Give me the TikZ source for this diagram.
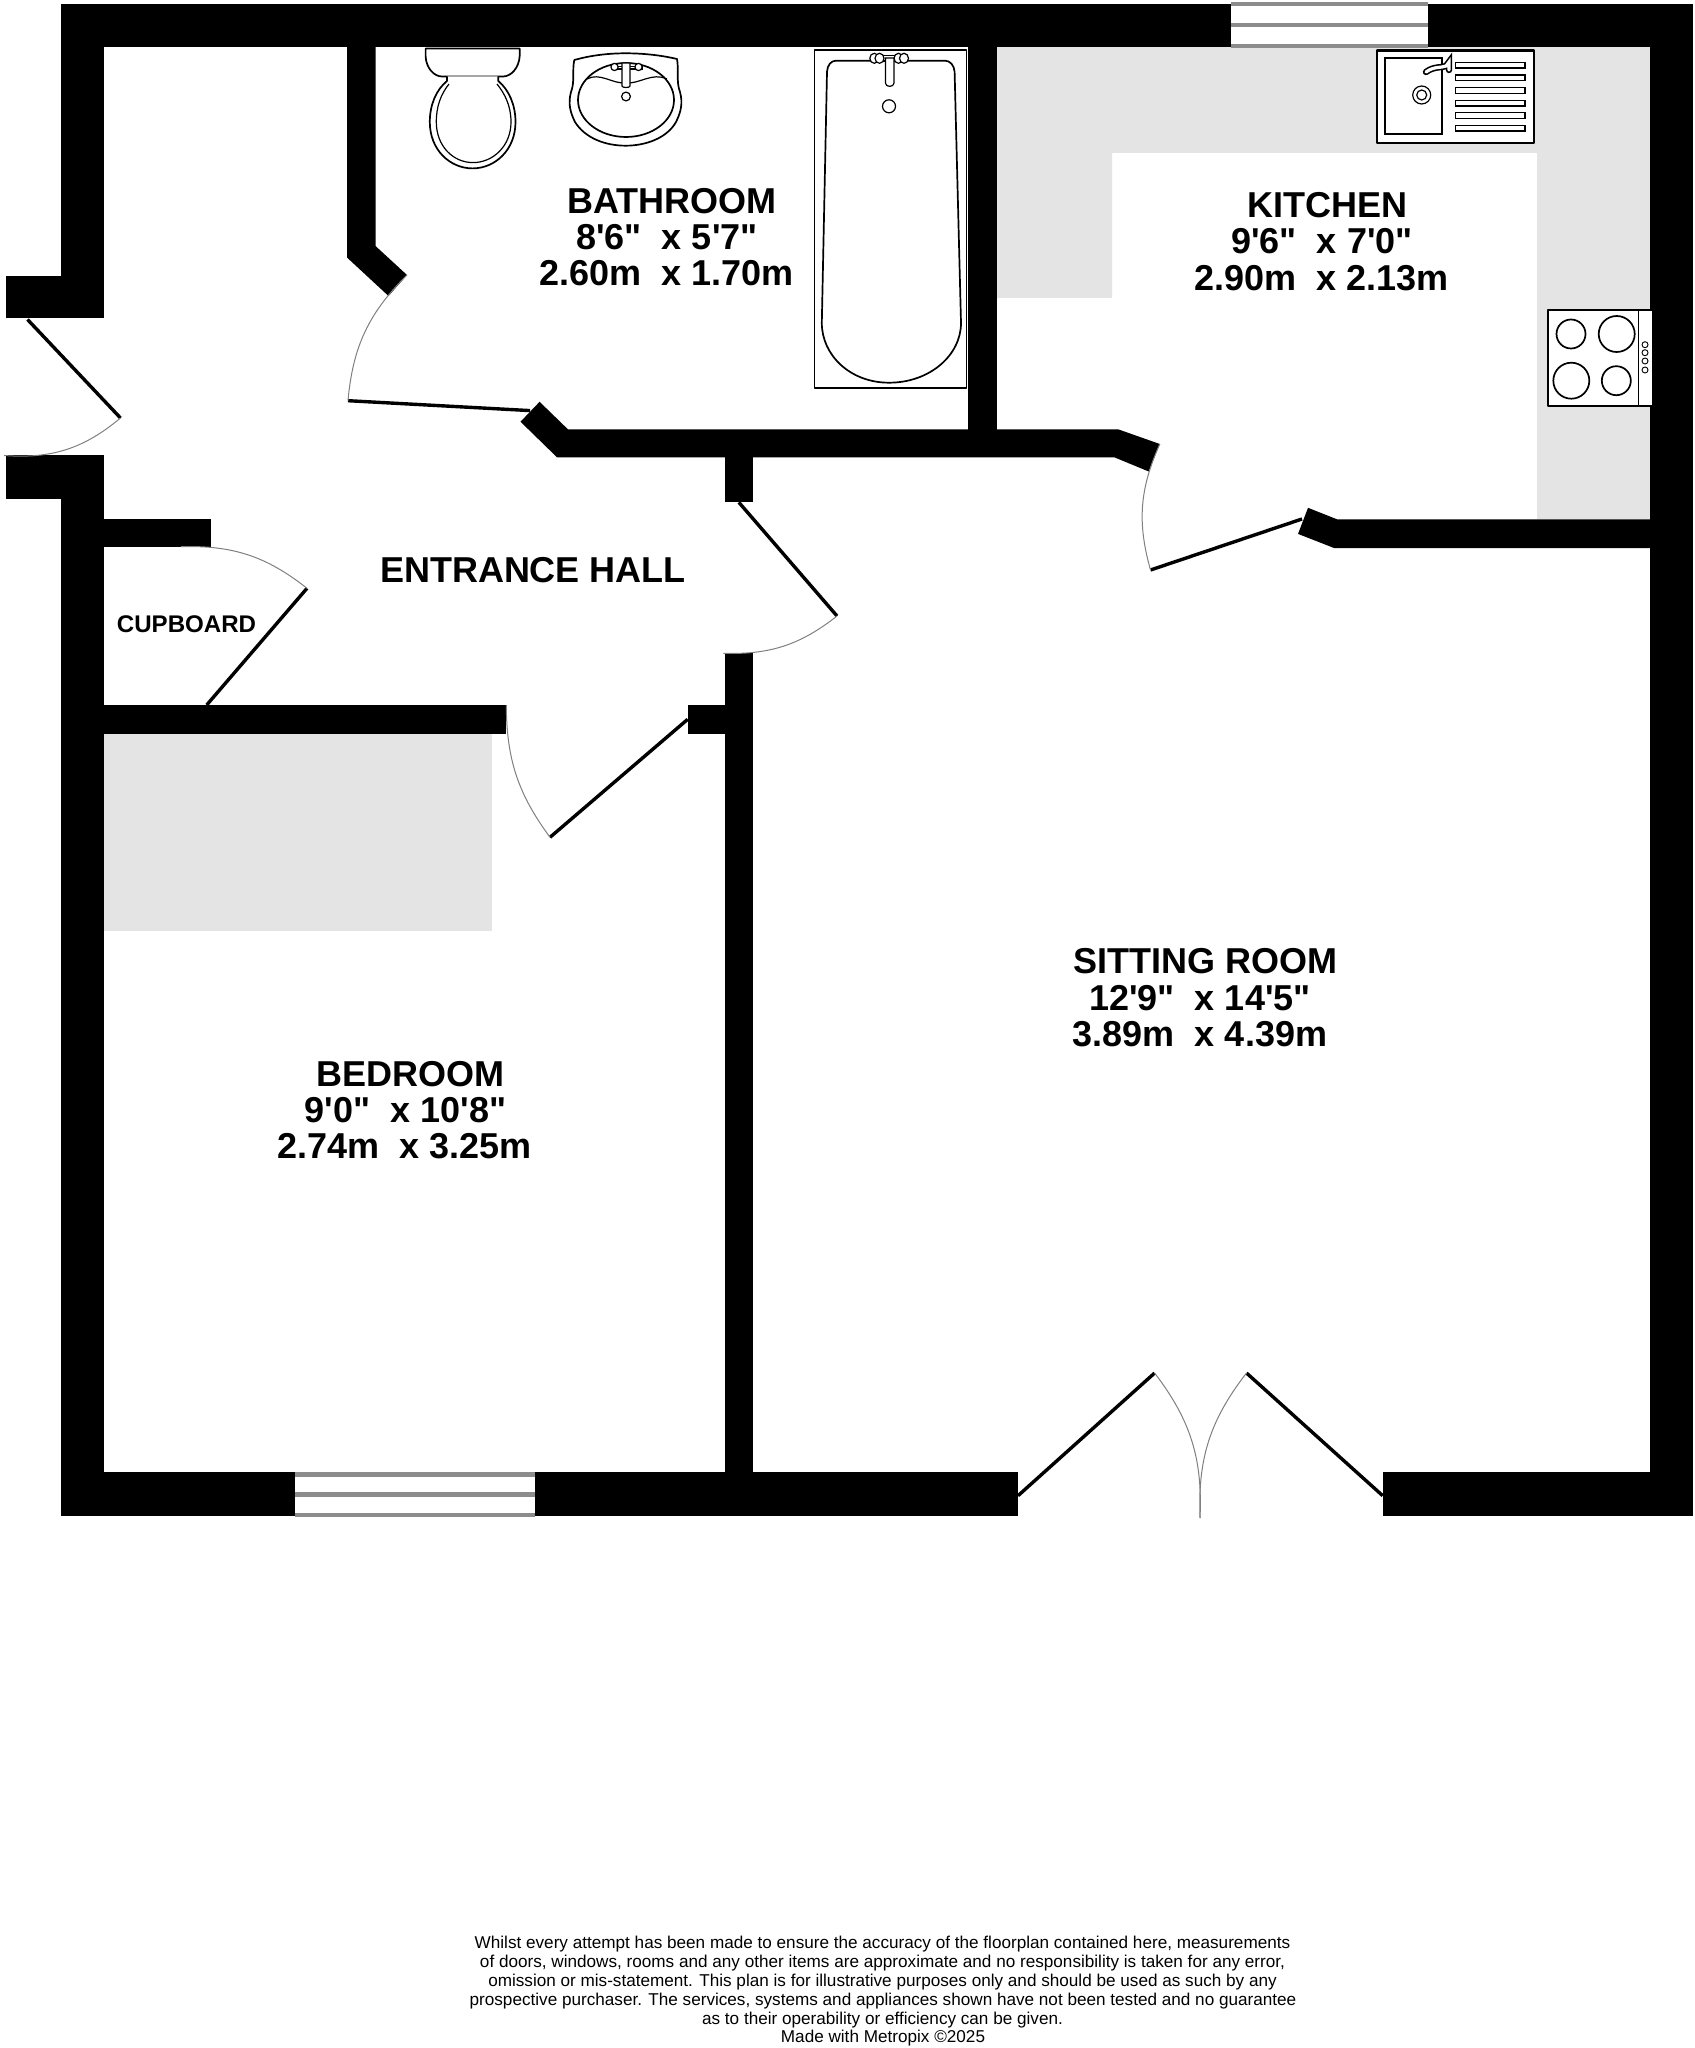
\documentclass[tikz,border=0pt]{standalone}
\usepackage{fontspec}
\newfontfamily\plansans{Liberation Sans}
\tikzset{
  wall/.style={fill=black,draw=none},
  counter/.style={fill=counterg,draw=none},
  leaf/.style={draw=black,line width=1.7pt},
  swing/.style={draw=swingg,line width=0.5pt},
  fixture/.style={draw=black,line width=0.85pt,fill=white,line join=round},
  fine/.style={draw=black,line width=0.6pt,fill=white},
  winbar/.style={fill=wing,draw=none},
  roomname/.style={font=\plansans\bfseries\fontsize{18}{20}\selectfont,anchor=base,inner sep=0pt,text=black},
  smallname/.style={font=\plansans\bfseries\fontsize{12.05}{14}\selectfont,anchor=base,inner sep=0pt,text=black},
  small print/.style={font=\plansans\fontsize{8.57}{10}\selectfont,anchor=base,inner sep=0pt,text=black}
}
\definecolor{counterg}{HTML}{E4E4E4}
\definecolor{swingg}{HTML}{808080}
\definecolor{wing}{HTML}{8C8C8C}
\begin{document}
\begin{tikzpicture}[x=0.5pt,y=-0.5pt]
\useasboundingbox (0,0) rectangle (1695,2048);
\fill[white] (0,0) rectangle (1695,2048);
% counters / wardrobe
\fill[counter] (997,47) -- (1650,47) -- (1650,519.3) -- (1537,519.3) -- (1537,153) -- (1112,153) -- (1112,298) -- (997,298) -- cycle;
\fill[counter] (103.5,734) rectangle (492,931);
% walls
\fill[wall] (60.5,4) rectangle (1231,47);
\fill[wall] (1428,4) rectangle (1693,47);
\fill[wall] (60.5,4) rectangle (103.5,318.5);
\fill[wall] (6,276) rectangle (103.5,318.5);
\fill[wall] (6,455.5) rectangle (103.5,498.6);
\fill[wall] (60.5,455.5) rectangle (103.5,1515.7);
\fill[wall] (103.5,519.3) rectangle (211,547.3);
\fill[wall] (103.5,705) rectangle (506.3,734);
\fill[wall] (60.5,1472.3) rectangle (295,1515.7);
\fill[wall] (535,1472.3) rectangle (1018,1515.7);
\fill[wall] (1382.7,1472.3) rectangle (1693,1515.7);
\fill[wall] (1650,4) rectangle (1693,1515.7);
\fill[wall] (347,47) -- (375.5,47) -- (375.5,246) -- (407,275) -- (388.5,296) -- (347,257.5) -- cycle;
\fill[wall] (539.6,401.8) -- (568,429.4) -- (1118.4,429.4) -- (1159.8,444) -- (1148.7,471.5) -- (1114.3,457.3) -- (557,457.3) -- (520.5,421.7) -- cycle;
\fill[wall] (968,47) rectangle (997,457);
\fill[wall] (724.5,457) rectangle (753,501.7);
\fill[wall] (724.5,653.3) rectangle (753,1472.3);
\fill[wall] (687.7,705) rectangle (753,734);
\fill[wall] (1308,507.8) -- (1337,519.3) -- (1650,519.3) -- (1650,548) -- (1334,548) -- (1298,533.9) -- cycle;
% windows
\fill[white] (1231,4) rectangle (1428,47);
\fill[winbar] (1231,2.5) rectangle (1428,6);
\fill[winbar] (1231,23.5) rectangle (1428,27);
\fill[winbar] (1231,44.5) rectangle (1428,48);
\fill[white] (295,1472.3) rectangle (535,1515.7);
\fill[winbar] (295,1472) rectangle (535,1476.5);
\fill[winbar] (295,1492) rectangle (535,1496.5);
\fill[winbar] (295,1512.5) rectangle (535,1517);
% door leaves and swings
\coordinate (d1h) at (27.5,319.5);  \coordinate (d1t) at (120.5,418);  \coordinate (d1e) at (4,455.5);
\coordinate (d2h) at (530,410.6);   \coordinate (d2t) at (348,400.7);  \coordinate (d2e) at (407,275);
\coordinate (d3h) at (687.7,719.3); \coordinate (d3t) at (550,837.3);  \coordinate (d3e) at (506.3,705);
\coordinate (d4h) at (738.8,502.3); \coordinate (d4t) at (837,616);    \coordinate (d4e) at (723.3,653.3);
\coordinate (d5h) at (206.7,705);   \coordinate (d5t) at (307,588.3);  \coordinate (d5e) at (180.8,546.7);
\coordinate (d6h) at (1302,519);    \coordinate (d6t) at (1150.5,570); \coordinate (d6e) at (1159.8,444);
\coordinate (d7h) at (1018,1495.7); \coordinate (d7t) at (1154.6,1373);\coordinate (d7e) at (1200,1518);
\coordinate (d8h) at (1382.7,1495.7);\coordinate (d8t) at (1246.5,1373);
\draw[leaf] (d1h) -- (d1t); \draw[swing] (d1t) to[bend left=22] (d1e);
\draw[leaf] (d2h) -- (d2t); \draw[swing] (d2t) to[bend left=20] (d2e);
\draw[leaf] (d3h) -- (d3t); \draw[swing] (d3t) to[bend left=18] (d3e);
\draw[leaf] (d4h) -- (d4t); \draw[swing] (d4t) to[bend left=20] (d4e);
\draw[leaf] (d5h) -- (d5t); \draw[swing] (d5t) to[bend right=20] (d5e);
\draw[leaf] (d6h) -- (d6t); \draw[swing] (d6t) to[bend left=20] (d6e);
\draw[leaf] (d7h) -- (d7t); \draw[swing] (d7t) to[bend left=20] (d7e);
\draw[leaf] (d8h) -- (d8t); \draw[swing] (d8t) to[bend right=20] (d7e);
% toilet
\draw[fixture] (425.6,48.6) -- (519.7,48.6) -- (519.7,56) .. controls (519,68) and (511,76.5) .. (503,76.5) -- (442,76.5) .. controls (434,76.5) and (426,68) .. (425.6,56) -- cycle;
\draw[fixture] (447,76.5) -- (447,81) .. controls (436,90) and (429.8,105) .. (429.8,122) .. controls (429.8,150) and (450,168.4) .. (472.6,168.4) .. controls (495,168.4) and (515.5,150) .. (515.5,122) .. controls (515.5,105) and (509,90) .. (498.3,81) -- (498.3,76.5);
\draw[fixture,fill=none,line width=0.6pt] (449,84) .. controls (441,94) and (436.3,106) .. (436.3,122) .. controls (436.3,146) and (453,162.6) .. (473,162.6) .. controls (493,162.6) and (511,146) .. (511,122) .. controls (511,106) and (505,94) .. (497,84);
% basin
\draw[fixture] (574.3,60) .. controls (592,55) and (610,53.3) .. (625.7,53.3) .. controls (642,53.3) and (660,55) .. (677,59) .. controls (679,70) and (676,82) .. (680,92) .. controls (683,103) and (681,112) .. (676,122) .. controls (667,138) and (646,145.7) .. (625.7,145.7) .. controls (605,145.7) and (585,138) .. (575,122) .. controls (570,112) and (568,103) .. (571,92) .. controls (575,82) and (572,70) .. (574.3,60) -- cycle;
\draw[fixture,fill=none] (626,100) ellipse [x radius=48,y radius=37];
\draw[fine,fill=none] (587,79) .. controls (600,72) and (612,84) .. (626,83) .. controls (640,84) and (652,72) .. (667,79);
\draw[fine] (616,66.5) rectangle (642,69);
\draw[fine] (614.5,67) circle [radius=3.6];
\draw[fine] (638.5,67) circle [radius=3.6];
\draw[fine] (622,63) -- (622,86) .. controls (622,88) and (630,88) .. (630,86) -- (630,63) -- cycle;
\draw[fine] (626,96.5) circle [radius=4.4];
% bath
\draw[fixture] (814.6,50) rectangle (966.4,388.3);
\draw[fixture] (836,60.7) -- (945,60.7) .. controls (950,60.7) and (954,65) .. (954.6,71.7) -- (961,323) .. controls (961,355) and (930,382.7) .. (889,382.7) .. controls (850,382.7) and (821.8,355) .. (821.8,323) -- (827,71.7) .. controls (827.5,65) and (831,60.7) .. (836,60.7) -- cycle;
\draw[fine] (872,55.5) rectangle (906,61);
\draw[fine] (874.3,58.3) ellipse [x radius=4.5,y radius=5];
\draw[fine] (879.5,58.3) ellipse [x radius=4.5,y radius=5];
\draw[fine] (898.5,58.3) ellipse [x radius=4.5,y radius=5];
\draw[fine] (904,58.3) ellipse [x radius=4.5,y radius=5];
\draw[fine] (885.4,58) -- (885.4,83) .. controls (885.4,87.5) and (894,87.5) .. (894,83) -- (894,58) -- cycle;
\draw[fine] (889,106.3) circle [radius=6.5];
% sink
\draw[fixture,line width=1.2pt] (1376.7,50.7) rectangle (1534,143.3);
\draw[fine,line width=0.8pt] (1385,58.3) rectangle (1441.7,134.3);
\draw[fine] (1421.7,95) circle [radius=9];
\draw[fine] (1421.7,95) circle [radius=5];
\foreach \a in {62.3,75,87.7,100.3,112.7,125.3}
  \draw[fine] (1455.7,\a) rectangle (1525,\a+5.8);
\draw[line width=3.2pt,black,line cap=round] (1426,72) .. controls (1434,66) and (1442,68) .. (1446,66) -- (1449,62) -- (1449,70);
\draw[line width=1.6pt,white,line cap=round] (1426,72) .. controls (1434,66) and (1442,68) .. (1446,66) -- (1449,62) -- (1449,70);
% hob
\draw[fixture,line width=1.1pt] (1547.7,310) rectangle (1653.3,406);
\draw[fine,fill=none] (1638.3,310) -- (1638.3,406);
\draw[fixture] (1571,334) circle [radius=14.5];
\draw[fixture] (1616.7,334) circle [radius=18];
\draw[fixture] (1571.3,380.7) circle [radius=18];
\draw[fixture] (1616.3,380.7) circle [radius=14.5];
\foreach \b in {344.7,352.7,361,370}
  \draw[fine,line width=0.45pt] (1645,\b) circle [radius=3];
% labels
\node[roomname] (bath1) at (672,213.5) {BATHROOM};
\node[roomname] (bath2) at (667,250) {8'6"~~x 5'7"};
\node[roomname] (bath3) at (666.7,285.5) {2.60m~~x 1.70m};
\node[roomname] (kit1) at (1327,218) {KITCHEN};
\node[roomname] (kit2) at (1322,254) {9'6"~~x 7'0"};
\node[roomname] (kit3) at (1321.5,290.5) {2.90m~~x 2.13m};
\node[roomname] (hall) at (533,582) {ENTRANCE HALL};
\node[smallname] (cup) at (186.5,632.5) {CUPBOARD};
\node[roomname] (sit1) at (1205,973.8) {SITTING ROOM};
\node[roomname] (sit2) at (1200,1010) {12'9"~~x 14'5"};
\node[roomname] (sit3) at (1200,1046) {3.89m~~x 4.39m};
\node[roomname] (bed1) at (410.3,1086) {BEDROOM};
\node[roomname] (bed2) at (405.5,1122) {9'0"~~x 10'8"};
\node[roomname] (bed3) at (404.5,1158) {2.74m~~x 3.25m};
\node[small print] (f1) at (882.5,1948.3) {Whilst every attempt has been made to ensure the accuracy of the floorplan contained here, measurements};
\node[small print] (f2) at (882.5,1967.3) {of doors, windows, rooms and any other items are approximate and no responsibility is taken for any error,};
\node[small print] (f3) at (882.5,1986) {omission or mis-statement. This plan is for illustrative purposes only and should be used as such by any};
\node[small print] (f4) at (883,2005) {prospective purchaser. The services, systems and appliances shown have not been tested and no guarantee};
\node[small print] (f5) at (882.5,2024) {as to their operability or efficiency can be given.};
\node[small print] (f6) at (883,2042.7) {Made with Metropix ©2025};
\end{tikzpicture}
\end{document}
